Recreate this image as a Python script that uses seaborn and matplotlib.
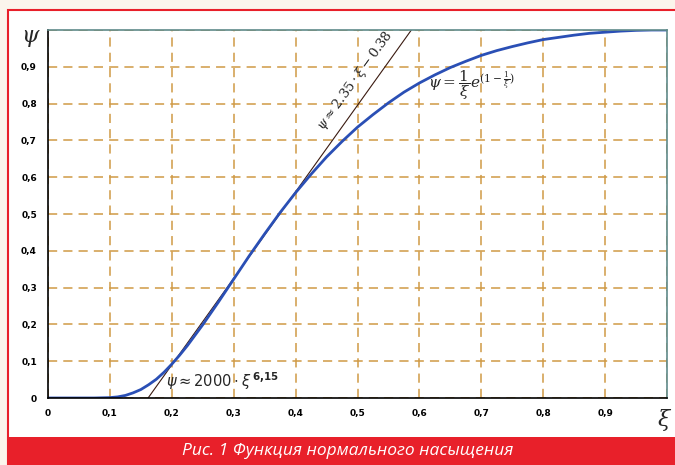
import numpy as np
import pandas as pd
import matplotlib
matplotlib.use("Agg")
import matplotlib.pyplot as plt
from matplotlib.patches import Rectangle
import seaborn as sns

# curve psi(xi), values
xi = [0.0, 0.05, 0.075, 0.1, 0.1125, 0.125, 0.1375, 0.15, 0.1625, 0.175, 0.1875,
      0.2, 0.2125, 0.225, 0.25, 0.275, 0.3, 0.325, 0.35, 0.375, 0.4, 0.425,
      0.45, 0.475, 0.5, 0.525, 0.55, 0.575, 0.6, 0.625, 0.65, 0.675, 0.7,
      0.725, 0.75, 0.775, 0.8, 0.825, 0.85, 0.875, 0.9, 0.925, 0.95, 0.975, 1.0]
psi = [0.0, 0.0, 0.0, 0.001, 0.003, 0.007, 0.014, 0.023, 0.036, 0.051, 0.070,
       0.092, 0.116, 0.142, 0.199, 0.26, 0.323, 0.386, 0.446, 0.504, 0.558, 0.608,
       0.655, 0.697, 0.736, 0.77, 0.802, 0.831, 0.856, 0.878, 0.898, 0.915, 0.931,
       0.944, 0.955, 0.965, 0.974, 0.98, 0.986, 0.991, 0.994, 0.997, 0.999, 1.0, 1.0]

# tangent line psi ~ 2.35*xi - 0.38
tan_xi = [0.1617, 0.587]
tan_psi = [0.0, 1.0]

ticks = [0, 0.1, 0.2, 0.3, 0.4, 0.5, 0.6, 0.7, 0.8, 0.9]
tick_labels = ["0", "0,1", "0,2", "0,3", "0,4", "0,5", "0,6", "0,7", "0,8", "0,9"]

caption = "Рис. 1 Функция нормального насыщения"

df = pd.DataFrame({"xi": xi, "psi": psi})
dt = pd.DataFrame({"xi": tan_xi, "psi": tan_psi})

sns.set_style("white")
plt.rcParams["font.family"] = ["DejaVu Sans"]

fig = plt.figure(figsize=(6.75, 4.65), dpi=100)
fig.patch.set_facecolor("#fbf5ec")

# white panel with red border and red caption band
fig.patches.append(Rectangle((8/675, 0), 1, 1 - 10/465, transform=fig.transFigure,
                             facecolor="white", edgecolor="#e8202a", linewidth=1.5, zorder=-2))
fig.patches.append(Rectangle((8/675, 0), 1, 28/465, transform=fig.transFigure,
                             facecolor="#e8202a", edgecolor="none", zorder=-1))
fig.text(0.515, 14/465, caption, color="white", style="italic", fontsize=12.5,
         ha="center", va="center", family="Open Sans")

ax = fig.add_axes([48/675, 67/465, 619/675, 368/465])
ax.set_zorder(2)
ax.set_facecolor("white")

sns.lineplot(data=dt, x="xi", y="psi", ax=ax, color="#3a1a10", linewidth=0.8)
sns.lineplot(data=df, x="xi", y="psi", ax=ax, color="#2a4fb5", linewidth=2)

ax.set_xlim(0, 1)
ax.set_ylim(0, 1)
ax.set_xticks(ticks + [1.0])
ax.set_yticks(ticks + [1.0])
ax.set_xticklabels(tick_labels + [""], fontsize=6.5, fontweight="bold")
ax.set_yticklabels(tick_labels + [""], fontsize=6.5, fontweight="bold")
ax.tick_params(direction="out", length=3, width=0.8, pad=5, colors="black")
ax.grid(True, color="#d09a45", linestyle=(0, (6, 4)), linewidth=1.1)
ax.set_axisbelow(True)
ax.set_xlabel("")
ax.set_ylabel("")

for s in ["left", "bottom"]:
    ax.spines[s].set_color("black")
    ax.spines[s].set_linewidth(1.2)
for s in ["top", "right"]:
    ax.spines[s].set_color("#5f8a8a")
    ax.spines[s].set_linewidth(1.2)

# axis symbols
fig.text(30/675, 1 - 36/465, "ψ", fontsize=16, style="italic", family="DejaVu Serif",
         ha="center", va="center")
fig.text(664/675, 1 - 420/465, "ξ", fontsize=16, style="italic", family="DejaVu Serif",
         ha="center", va="center")

# annotations
ax.text(0.19, 0.045, r"$\psi \approx 2000\cdot\xi^{\,\mathbf{6{,}15}}$", fontsize=10.5,
        ha="left", va="center")
ax.text(0.497, 0.862, r"$\psi \approx 2.35\cdot\xi - 0.38$", fontsize=9.5,
        rotation=54, ha="center", va="center", math_fontfamily="dejavuserif")
ax.text(0.685, 0.85, r"$\psi = \dfrac{1}{\xi}e^{(1-\frac{1}{\xi})}$", fontsize=11,
        ha="center", va="center", math_fontfamily="dejavuserif")

fig.savefig("out.png", dpi=100, facecolor=fig.get_facecolor())
plt.close()
